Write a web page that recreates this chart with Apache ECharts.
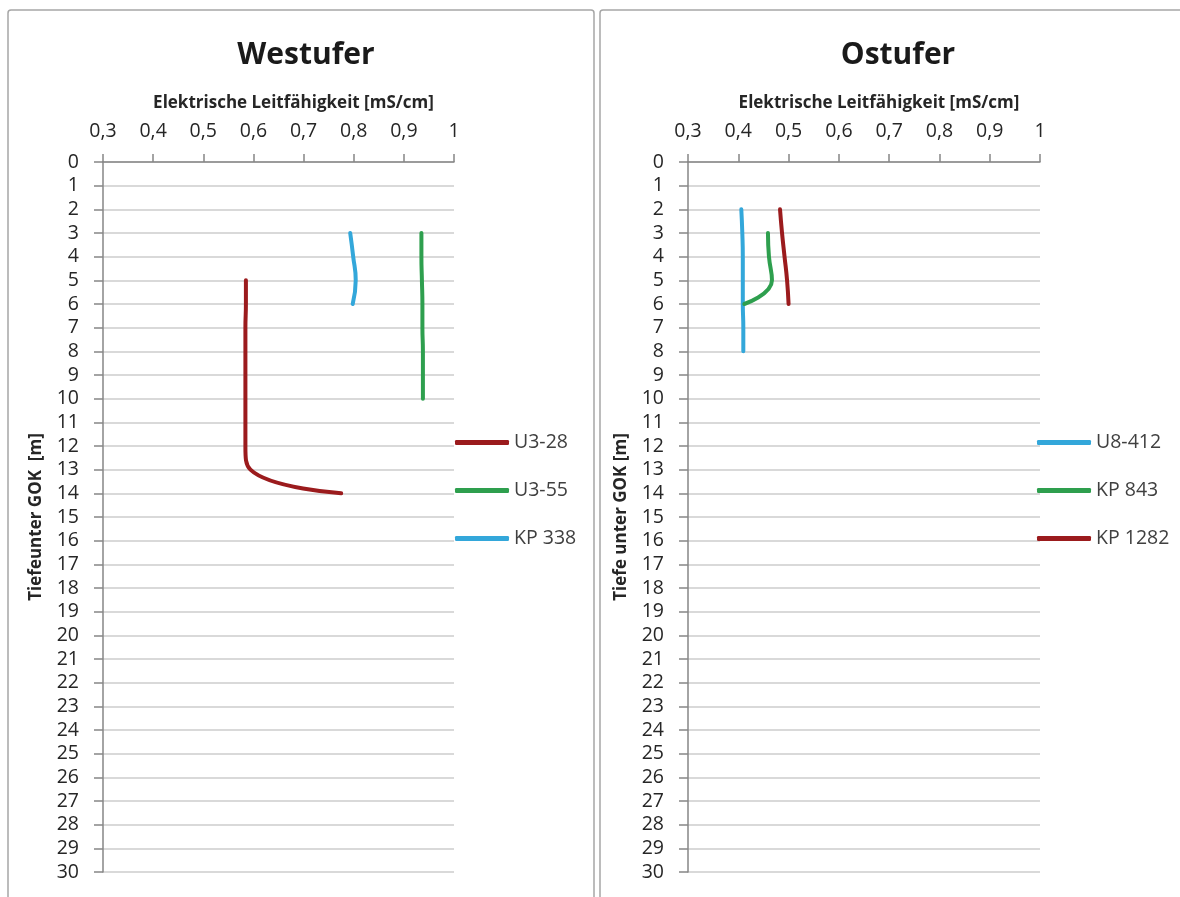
<!DOCTYPE html>
<html>
<head>
<meta charset="utf-8">
<script src="https://cdn.jsdelivr.net/npm/echarts@6/dist/echarts.min.js"></script>
<style>
  html, body { margin: 0; padding: 0; background: #ffffff; }
  #chart { width: 1180px; height: 897px; }
</style>
</head>
<body>
<div id="chart"></div>
<script>
// Electrical conductivity profiles with depth below ground level (GOK)

// --- Westufer ---
const westU328Depth = [5, 6, 7, 8, 9, 10, 11, 12, 13, 14];
const westU328Value = [0.585, 0.585, 0.584, 0.584, 0.584, 0.584, 0.584, 0.584, 0.594, 0.775];
const westU355Depth = [3, 4, 5, 6, 7, 8, 9, 10];
const westU355Value = [0.935, 0.935, 0.936, 0.937, 0.937, 0.938, 0.938, 0.938];
const westKP338Depth = [3, 4, 5, 6];
const westKP338Value = [0.793, 0.799, 0.804, 0.798];

// --- Ostufer ---
const eastU8412Depth = [2, 3, 4, 5, 6, 7, 8];
const eastU8412Value = [0.406, 0.408, 0.409, 0.409, 0.409, 0.41, 0.41];
const eastKP843Depth = [3, 4, 5, 6];
const eastKP843Value = [0.459, 0.461, 0.467, 0.412];
const eastKP1282Depth = [2, 3, 4, 5, 6];
const eastKP1282Value = [0.483, 0.487, 0.492, 0.497, 0.5];

const panelTitles = ['Westufer', 'Ostufer'];
const xAxisTitle = 'Elektrische Leitfähigkeit [mS/cm]';
const yAxisTitles = ['Tiefeunter GOK  [m]', 'Tiefe unter GOK [m]'];
const westNames = ['U3-28', 'U3-55', 'KP 338'];
const eastNames = ['U8-412', 'KP 843', 'KP 1282'];

const RED = '#9b1b1d';
const GREEN = '#2e9f4e';
const BLUE = '#33a7da';
const FONT = '"Open Sans", Lato, sans-serif';

function pairs(depths, values) {
  return depths.map((d, i) => [values[i], d]);
}

function fmtX(v) {
  return String(Math.round(v * 10) / 10).replace('.', ',');
}

function xAxisCfg(gridIndex) {
  return {
    type: 'value', gridIndex, position: 'top',
    min: 0.3, max: 1, interval: 0.1,
    name: xAxisTitle, nameLocation: 'middle', nameGap: 50,
    nameTextStyle: { fontFamily: FONT, fontSize: 17, fontWeight: 'bold', color: '#262626', padding: [0, 0, 0, 30] },
    axisLine: { show: true, lineStyle: { color: '#868686', width: 1.5 } },
    axisTick: { show: true, inside: false, length: 8, lineStyle: { color: '#868686', width: 1.5 } },
    axisLabel: { margin: 21, fontFamily: FONT, fontSize: 19.5, color: '#262626', formatter: fmtX },
    splitLine: { show: false }
  };
}

function yAxisCfg(gridIndex, title) {
  return {
    type: 'value', gridIndex, inverse: true,
    min: 0, max: 30, interval: 1,
    name: title, nameLocation: 'middle', nameRotate: 90, nameGap: 58,
    nameTextStyle: { fontFamily: FONT, fontSize: 17, fontWeight: 'bold', color: '#262626' },
    axisLine: { show: true, lineStyle: { color: '#868686', width: 1.5 } },
    axisTick: { show: true, inside: false, length: 9, lineStyle: { color: '#868686', width: 1.5 } },
    axisLabel: { margin: 24, fontFamily: FONT, fontSize: 19.5, color: '#262626' },
    splitLine: { show: true, lineStyle: { color: '#d9d9d9', width: 2 } }
  };
}

function lineSeries(name, idx, data, color) {
  return {
    name, type: 'line', xAxisIndex: idx, yAxisIndex: idx,
    data, smooth: 0.5, showSymbol: false, symbol: 'none',
    lineStyle: { color, width: 4, cap: 'round', join: 'round' },
    itemStyle: { color },
    animation: false
  };
}

function legendCfg(names, left) {
  return {
    data: names, orient: 'vertical', left, top: 431, padding: 0,
    icon: 'roundRect', itemWidth: 54, itemHeight: 5, itemGap: 25,
    textStyle: { fontFamily: FONT, fontSize: 19.5, color: '#404040', lineHeight: 23 }
  };
}

const chart = echarts.init(document.getElementById('chart'), null, { renderer: 'canvas' });

chart.setOption({
  backgroundColor: '#ffffff',
  animation: false,
  graphic: [
    { type: 'rect', shape: { x: 8, y: 10, width: 586, height: 920, r: 3 },
      style: { fill: 'none', stroke: '#a6a6a6', lineWidth: 1.5 }, z: -1 },
    { type: 'rect', shape: { x: 600, y: 10, width: 620, height: 920, r: 3 },
      style: { fill: 'none', stroke: '#a6a6a6', lineWidth: 1.5 }, z: -1 }
  ],
  title: [
    { text: panelTitles[0], left: 301, top: 35, textAlign: 'center',
      textStyle: { fontFamily: FONT, fontSize: 30, fontWeight: 'bold', color: '#1a1a1a' } },
    { text: panelTitles[1], left: 893, top: 35, textAlign: 'center',
      textStyle: { fontFamily: FONT, fontSize: 30, fontWeight: 'bold', color: '#1a1a1a' } }
  ],
  grid: [
    { left: 103, top: 162, width: 351, height: 710 },
    { left: 688, top: 162, width: 352, height: 710 }
  ],
  xAxis: [xAxisCfg(0), xAxisCfg(1)],
  yAxis: [yAxisCfg(0, yAxisTitles[0]), yAxisCfg(1, yAxisTitles[1])],
  legend: [legendCfg(westNames, 455), legendCfg(eastNames, 1037)],
  series: [
    lineSeries(westNames[0], 0, pairs(westU328Depth, westU328Value), RED),
    lineSeries(westNames[1], 0, pairs(westU355Depth, westU355Value), GREEN),
    lineSeries(westNames[2], 0, pairs(westKP338Depth, westKP338Value), BLUE),
    lineSeries(eastNames[0], 1, pairs(eastU8412Depth, eastU8412Value), BLUE),
    lineSeries(eastNames[1], 1, pairs(eastKP843Depth, eastKP843Value), GREEN),
    lineSeries(eastNames[2], 1, pairs(eastKP1282Depth, eastKP1282Value), RED)
  ]
});
</script>
</body>
</html>
